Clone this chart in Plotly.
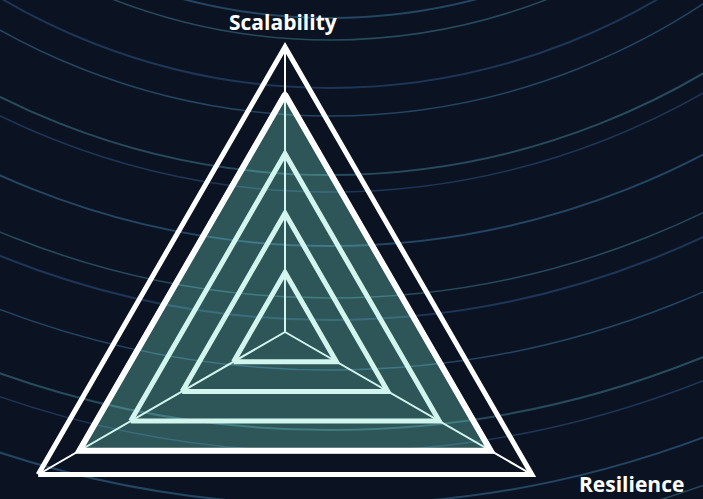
import plotly.graph_objects as go

# ---- data ----
categories = ["Scalability", "Resilience", "Flexibility"]
series_values = [4, 4, 4]
grid_levels = [1, 2, 3, 4]
radial_max = 4.8
label_texts = ["Scalability", "Resilience"]

# ---- geometry (pixels) ----
W, H = 703, 640
cx_px, cy_px, R_px = 285, 332, 285

theta = categories + categories[:1]
r = series_values + series_values[:1]

fig = go.Figure()
fig.add_trace(go.Scatterpolar(
    r=r, theta=theta, mode="lines", fill="toself",
    fillcolor="rgba(117,224,203,0.33)",
    line=dict(color="white", width=6),
    hoverinfo="skip", showlegend=False,
))

# decorative background streaks (concentric arcs)
arc_center = (330, -560)
arc_radii = [578, 600, 648, 676, 735, 752, 806, 858, 880, 930, 990, 1012, 1065, 1110]
arc_colors = ["rgba(70,140,190,0.42)", "rgba(90,180,200,0.35)", "rgba(60,110,170,0.38)"]
shapes = []
for i, rad in enumerate(arc_radii):
    x0 = (arc_center[0] - rad) / W
    x1 = (arc_center[0] + rad) / W
    y0 = (H - (arc_center[1] + rad)) / H
    y1 = (H - (arc_center[1] - rad)) / H
    shapes.append(dict(type="circle", xref="paper", yref="paper",
                       x0=x0, x1=x1, y0=y0, y1=y1, layer="below",
                       line=dict(color=arc_colors[i % 3], width=1.5 if i % 2 else 2.0)))

fig.update_layout(
    width=W, height=H,
    margin=dict(l=0, r=0, t=0, b=0, pad=0),
    paper_bgcolor="#0b1322",
    plot_bgcolor="#0b1322",
    shapes=shapes,
    showlegend=False,
    polar=dict(
        domain=dict(x=[(cx_px - R_px) / W, (cx_px + R_px) / W],
                    y=[(H - (cy_px + R_px)) / H, (H - (cy_px - R_px)) / H]),
        bgcolor="rgba(0,0,0,0)",
        gridshape="linear",
        angularaxis=dict(
            categoryorder="array", categoryarray=categories,
            rotation=90, direction="clockwise",
            showline=True, linecolor="white", linewidth=5,
            showgrid=True, gridcolor="white", gridwidth=1.6,
            showticklabels=False, ticks="",
        ),
        radialaxis=dict(
            range=[0, radial_max], tickvals=grid_levels,
            showgrid=True, gridcolor="white", gridwidth=5,
            showline=False, showticklabels=False, ticks="",
        ),
    ),
    annotations=[
        dict(text="<b>%s</b>" % label_texts[0], x=283 / W, y=(H - 22) / H,
             xref="paper", yref="paper", xanchor="center", yanchor="middle",
             showarrow=False, font=dict(family="Open Sans", size=21, color="white")),
        dict(text="<b>%s</b>" % label_texts[1], x=631 / W, y=(H - 484) / H,
             xref="paper", yref="paper", xanchor="center", yanchor="middle",
             showarrow=False, font=dict(family="Open Sans", size=21, color="white")),
    ],
)

fig.write_html("out.html", config={"displayModeBar": False},
               post_script="document.body.style.overflow='hidden';document.body.style.margin='0';")
